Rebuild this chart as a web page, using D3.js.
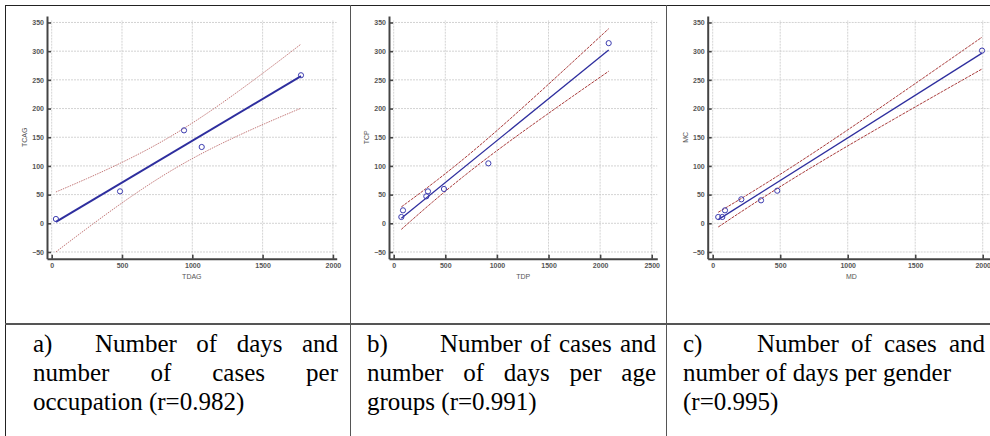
<!DOCTYPE html>
<html>
<head>
<meta charset="utf-8">
<script src="https://cdn.jsdelivr.net/npm/d3@7"></script>
<style>
  body { margin: 0; background: #fff; }
  #wrap { position: relative; width: 990px; height: 436px; overflow: hidden; }
  svg { position: absolute; left: 0; top: 0; }
  .cap {
    position: absolute;
    font-family: "Liberation Serif", "Times New Roman", serif;
    font-size: 25px;
    line-height: 29px;
    white-space: nowrap;
    color: #000;
  }
  .cap.just { text-align: justify; text-align-last: justify; }
  .tick text { font-family: "Liberation Sans", Arial, sans-serif; font-size: 7px; fill: #555; }
  .ttl { font-family: "Liberation Sans", Arial, sans-serif; font-size: 7px; fill: #555; }
</style>
</head>
<body>
<div id="wrap"></div>
<script>
// occupation
const tdag = [30, 486, 941, 1067, 1773];
const tcag = [7.5, 55.7, 162, 133, 258];
// age groups
const tdp = [74, 90, 316, 332, 487, 917, 2083];
const tcp = [11, 22.6, 47, 55.7, 59.8, 104.5, 314];
// gender
const md = [41, 71, 91, 212, 358, 478, 1995];
const mc = [11, 11, 22.6, 41.8, 40, 56.8, 301];

const yTicks = [-50, 0, 50, 100, 150, 200, 250, 300, 350];
const xTicksA = [0, 500, 1000, 1500, 2000];
const xTicksB = [0, 500, 1000, 1500, 2000, 2500];
const xTicksC = [0, 500, 1000, 1500, 2000];

const capA = ["Number of days and", "number of cases per", "occupation (r=0.982)"];
const capB = ["Number of cases and", "number of days per age", "groups (r=0.991)"];
const capC = ["Number of cases and", "number of days per gender", "(r=0.995)"];

// two-sided 95% t values by degrees of freedom
const tCrit = {3: 3.182, 5: 2.571};

const panels = [
  {x: tdag, y: tcag, xt: xTicksA, xName: "TDAG", yName: "TCAG",
   dom: [-33.4, 2027], rng: [47, 336.7], lw: 2, band: "#c47a7a", dash: "1.5,1"},
  {x: tdp, y: tcp, xt: xTicksB, xName: "TDP", yName: "TCP",
   dom: [-45.5, 2554], rng: [389, 657.3], lw: 1.3, band: "#a83a3a", dash: "3,1"},
  {x: md, y: mc, xt: xTicksC, xName: "MD", yName: "MC",
   dom: [-37, 2091], rng: [707.7, 995], lw: 1.3, band: "#a83a3a", dash: "3,1"}
];

// nJust = how many leading lines are justified to the full width
const captions = [
  {lab: "a)", lines: capA, left: 33, width: 305, indent: 62, nJust: 2},
  {lab: "b)", lines: capB, left: 367, width: 289, indent: 73, nJust: 2},
  {lab: "c)", lines: capC, left: 683, width: 302, indent: 74, nJust: 1}
];

const W = 990, H = 436;
const wrap = d3.select("#wrap");
const svg = wrap.append("svg").attr("width", W).attr("height", H);

const y = d3.scaleLinear().domain([-61.7, 361.3]).range([258.7, 16]);

function fit(xs, ys) {
  const n = xs.length, mx = d3.mean(xs), my = d3.mean(ys);
  const sxx = d3.sum(xs, v => (v - mx) ** 2);
  const sxy = d3.sum(xs, (v, i) => (v - mx) * (ys[i] - my));
  const b = sxy / sxx, a = my - b * mx;
  const sse = d3.sum(xs, (v, i) => (ys[i] - (a + b * v)) ** 2);
  const s = Math.sqrt(sse / (n - 2));
  const t = tCrit[n - 2];
  const ci = v => t * s * Math.sqrt(1 / n + (v - mx) ** 2 / sxx);
  return {a, b, ci};
}

panels.forEach(p => {
  const x = d3.scaleLinear().domain(p.dom).range(p.rng);
  const g = svg.append("g");

  // grid
  g.selectAll(".hg").data(yTicks).join("line")
    .attr("x1", p.rng[0]).attr("x2", p.rng[1])
    .attr("y1", d => y(d)).attr("y2", d => y(d))
    .attr("stroke", "#c8c8c8").attr("stroke-width", 0.8).attr("stroke-dasharray", "2,1");
  g.selectAll(".vg").data(p.xt).join("line")
    .attr("x1", d => x(d)).attr("x2", d => x(d))
    .attr("y1", y.range()[0]).attr("y2", y(350) - 2)
    .attr("stroke", "#c8c8c8").attr("stroke-width", 0.8).attr("stroke-dasharray", "2,1");

  // axes
  const ya = g.append("g").attr("transform", `translate(${p.rng[0]},0)`)
    .call(d3.axisLeft(y).tickValues(yTicks).tickFormat(d3.format("d"))
      .tickSizeInner(-4).tickSizeOuter(0).tickPadding(3));
  const xa = g.append("g").attr("transform", `translate(0,${y.range()[0]})`)
    .call(d3.axisBottom(x).tickValues(p.xt).tickFormat(d3.format("d"))
      .tickSizeInner(-4).tickSizeOuter(0).tickPadding(4));
  [ya, xa].forEach(a => {
    a.select(".domain").attr("stroke", "#444").attr("stroke-width", 2);
    a.selectAll(".tick line").attr("stroke", "#444").attr("stroke-width", 1.6);
    a.selectAll(".tick text").attr("font-weight", "bold");
  });

  g.append("text").attr("class", "ttl")
    .attr("x", (p.rng[0] + p.rng[1]) / 2).attr("y", 279)
    .attr("text-anchor", "middle").text(p.xName);
  g.append("text").attr("class", "ttl")
    .attr("transform", `translate(${p.rng[0] - 20},${(y.range()[0] + y.range()[1]) / 2}) rotate(-90)`)
    .attr("text-anchor", "middle").text(p.yName);

  // regression and 95% confidence band
  const f = fit(p.x, p.y);
  const [x0, x1] = d3.extent(p.x);
  const xs = d3.range(0, 41).map(i => x0 + (x1 - x0) * i / 40);
  const line = d3.line().x(d => x(d[0])).y(d => y(d[1]));
  g.append("path").datum(xs.map(v => [v, f.a + f.b * v + f.ci(v)]))
    .attr("d", line).attr("fill", "none").attr("stroke", p.band)
    .attr("stroke-width", 1).attr("stroke-dasharray", p.dash);
  g.append("path").datum(xs.map(v => [v, f.a + f.b * v - f.ci(v)]))
    .attr("d", line).attr("fill", "none").attr("stroke", p.band)
    .attr("stroke-width", 1).attr("stroke-dasharray", p.dash);
  g.append("path").datum([[x0, f.a + f.b * x0], [x1, f.a + f.b * x1]])
    .attr("d", line).attr("fill", "none").attr("stroke", "#2e2e9e")
    .attr("stroke-width", p.lw);

  g.selectAll("circle").data(p.x).join("circle")
    .attr("cx", d => x(d)).attr("cy", (d, i) => y(p.y[i]))
    .attr("r", 2.6).attr("fill", "none").attr("stroke", "#3d3db0").attr("stroke-width", 1);
});

// table borders
const border = svg.append("g").attr("stroke", "#222").attr("shape-rendering", "crispEdges");
border.append("line").attr("x1", 5).attr("x2", W).attr("y1", 5.5).attr("y2", 5.5).attr("stroke-width", 1.2);
border.append("line").attr("x1", 5.5).attr("x2", 5.5).attr("y1", 5).attr("y2", H).attr("stroke-width", 1.2);
border.append("line").attr("x1", 5).attr("x2", W).attr("y1", 324).attr("y2", 324)
  .attr("stroke", "#555").attr("stroke-width", 2);
[350, 666.5].forEach(v => border.append("line").attr("x1", v).attr("x2", v)
  .attr("y1", 5).attr("y2", H).attr("stroke", "#555").attr("stroke-width", 1));

// captions, one block per line; the label sits in the first-line indent
const capTop = 329, lh = 29;
captions.forEach(c => {
  wrap.append("div").attr("class", "cap")
    .style("left", c.left + "px").style("top", capTop + "px").text(c.lab);
  c.lines.forEach((t, i) => {
    const ind = i === 0 ? c.indent : 0;
    wrap.append("div").attr("class", i < c.nJust ? "cap just" : "cap")
      .style("left", (c.left + ind) + "px").style("top", (capTop + i * lh) + "px")
      .style("width", (c.width - ind) + "px")
      .text(t);
  });
});
</script>
</body>
</html>
